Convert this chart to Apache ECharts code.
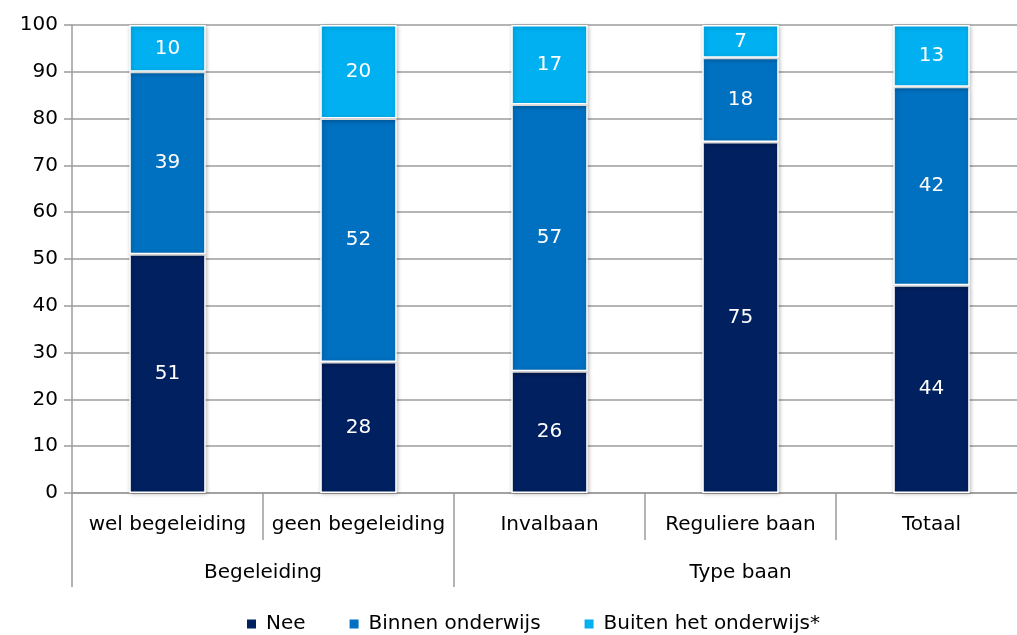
<!DOCTYPE html>
<html>
<head>
<meta charset="utf-8">
<script src="https://cdn.jsdelivr.net/npm/echarts@6/dist/echarts.min.js"></script>
<style>html,body{margin:0;padding:0;background:#fff}#c{width:1017px;height:635px}</style>
</head>
<body>
<div id="c"></div>
<script>
const categories = ['wel begeleiding', 'geen begeleiding', 'Invalbaan', 'Reguliere baan', 'Totaal'];
const groups = ['Begeleiding', 'Type baan'];
const groupSizes = [2, 3];
const seriesNames = ['Nee', 'Binnen onderwijs', 'Buiten het onderwijs*'];
const nee = [51, 28, 26, 75, 44.4];
const binnen = [39, 52, 57, 18, 42.4];
const buiten = [10, 20, 17, 7, 13.2];
const colors = ['#002060', '#0070C0', '#00B0F0'];

const FONT = 'DejaVu Sans';
const GRAY = '#9c9c9c';

// group boundaries and centres in category units
const bounds = [0];
groupSizes.forEach(s => bounds.push(bounds[bounds.length - 1] + s));
const centres = groupSizes.map((s, i) => bounds[i] + s / 2);

const chart = echarts.init(document.getElementById('c'));
const mk = (name, data, i) => ({
  name, type: 'bar', stack: 'total', data, barWidth: '40%', xAxisIndex: 0,
  itemStyle: { color: colors[i], borderColor: '#fff', borderWidth: 1.5,
    shadowColor: 'rgba(0,0,0,0.25)', shadowBlur: 4, shadowOffsetX: 1, shadowOffsetY: 1 },
  label: { show: true, position: 'inside', color: '#fff', fontFamily: FONT, fontSize: 20,
    formatter: p => Math.round(p.value) }
});
chart.setOption({
  animation: false,
  textStyle: { fontFamily: FONT },
  grid: { left: 72, width: 955, top: 25, bottom: 142, outerBoundsMode: 'none', containLabel: false },
  legend: {
    top: 609, left: 240, icon: 'rect', itemWidth: 11, itemHeight: 11, itemGap: 42,
    textStyle: { fontFamily: FONT, fontSize: 20, color: '#000', padding: [0, 0, 0, 4] },
    data: seriesNames
  },
  xAxis: [{
    type: 'category', data: categories, position: 'bottom',
    axisLine: { show: true, lineStyle: { color: GRAY, width: 1.5 } },
    axisTick: { show: true, interval: 0, alignWithLabel: false, length: 47, lineStyle: { color: GRAY, width: 1.5 } },
    axisLabel: { interval: 0, color: '#000', fontFamily: FONT, fontSize: 20, margin: 22 }
  }, {
    type: 'value', min: 0, max: categories.length, position: 'bottom',
    axisLine: { show: false },
    splitLine: { show: false },
    axisTick: { show: true, customValues: bounds, length: 94, lineStyle: { color: GRAY, width: 1.5 } },
    axisLabel: { show: true, customValues: centres, color: '#000', fontFamily: FONT, fontSize: 20, margin: 70,
      formatter: v => { const i = centres.indexOf(v); return i >= 0 ? groups[i] : ''; } }
  }],
  yAxis: {
    type: 'value', min: 0, max: 100, interval: 10,
    axisLine: { show: true, lineStyle: { color: GRAY, width: 1.5 } },
    axisTick: { show: true, length: 8, lineStyle: { color: GRAY, width: 1.5 } },
    splitLine: { show: true, lineStyle: { color: GRAY, width: 1.5 } },
    axisLabel: { color: '#000', fontFamily: FONT, fontSize: 20, margin: 14 }
  },
  series: [mk(seriesNames[0], nee, 0), mk(seriesNames[1], binnen, 1), mk(seriesNames[2], buiten, 2)]
});
</script>
</body>
</html>
